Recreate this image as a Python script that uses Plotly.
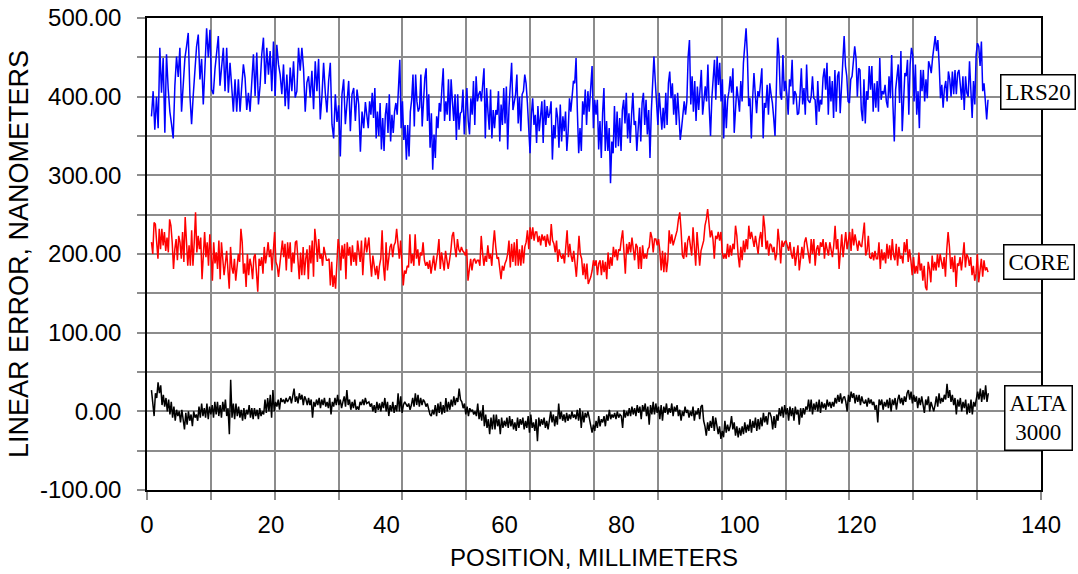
import numpy as np
import plotly.graph_objects as go

# ---- data (nanometers), in four consecutive stretches per series ----
blue_a = [375,407,358,400,360,462,405,449,354,454,410,381,365,347,414,451,425,462,381,419,449,464,481,402,365,402,441,464,479,422,448,390,437,487,450,485,409,403,435,458,477,414,437,462,407,462,405,443,413,381,422,381,422,381,413,441,424,383,405,381,418,454,401,456,390,414,454,475,416,462,428,458,407,470,401,466,441,428,403,441,388,428,384,437,407,445,399,407,462,433,462,435,381,418,426,399,433,384,445,407,448,371,401,443,405,380,420,443,365,347,403,368,389,324,403,422,365,394,420,356,403,411,369,409,390,330,381,360,393]
blue_b = [360,394,377,405,373,411,347,381,350,392,333,373,331,377,392,354,403,343,377,354,381,392,377,420,447,360,394,345,364,320,364,324,381,396,428,362,428,394,381,386,428,362,403,424,436,369,403,335,379,307,352,322,375,360,392,381,411,436,369,394,377,422,369,422,394,369,403,345,403,358,379,381,409,352,381,411,369,352,398,377,420,364,426,394,403,407,394,417,436,347,411,381,358,409,347,383,360,383,377,407,343,390,364,411,366,413,333,386,420,443,383,394,403,428,366,400,356,403,407,428,417,392,364,328,377,398,364,377,341,388,356,373,394,341,396,364,388,373,379,394,320,364,347,386,373,335,390,343,375,356,381,331,356,398,381,400,420,417,449,381,328,360,331,394,377,409,364,407,381]
blue_c = [439,360,396,377,396,333,369,322,379,411,331,369,331,360,290,343,328,388,335,381,337,373,331,383,396,366,405,347,379,341,377,405,364,369,331,360,386,343,392,405,364,396,352,383,322,381,411,451,420,390,364,405,377,358,386,360,405,364,417,432,398,417,377,403,364,405,377,345,360,377,394,377,394,451,472,390,426,381,420,369,413,383,411,434,377,398,413,394,441,386,350,398,428,447,396,451,415,443,394,422,347,403,360,396,407,426,405,436,354,386,413,398,381,420,394,443,462,487,453,388,398,347,398,430,403,379,407,400,417,436,347,392,386,415,377,417,403,392,373,350,409,475,453,403,396,453,407,420,403,377,422,413,447,390,407,403,377,379,403,436,390,411,377,441,396]
blue_d = [392,400,426,398,396,364,420,381,396,390,424,436,409,443,377,426,394,420,373,434,381,426,432,379,420,445,477,439,426,394,392,422,426,451,464,449,400,436,434,383,369,422,366,407,396,439,409,439,381,417,386,420,381,449,396,407,403,415,394,386,426,398,453,388,343,409,430,441,392,458,356,403,430,426,447,377,441,462,453,394,441,377,407,360,434,407,434,394,422,398,445,439,430,449,462,477,458,472,441,398,415,386,411,420,394,432,422,400,432,403,434,403,430,434,415,396,426,383,426,405,400,445,409,373,420,390,453,468,464,439,470,407,417,388,371,396]

red_a = [215,200,240,238,215,194,232,206,232,211,228,204,221,202,244,236,215,181,206,219,192,223,215,194,228,190,247,223,185,211,185,230,185,215,253,202,223,206,221,168,198,228,196,215,185,225,200,166,215,188,202,181,217,168,215,196,173,188,204,179,156,209,183,175,194,166,183,200,190,232,215,175,188,158,200,173,194,185,168,196,200,171,152,194,185,196,175,209,188,200,215,196,206,179,206,228,190,185,171,190,204,217,196,213,179,215,194,215,177,202,188,215,217,194,168,202,173,209,173,194,206,168,211,188,217,171,232,215,190,219,194,200,185,209,198,192,192,194,160,190,158,173,156,194,219,206,179,211,194,213,168,215,198,209,185,211,190,202,185,217,198,190,217,173,202,221,202]
red_b = [221,192,171,198,185,173,185,168,185,194,230,185,166,215,179,196,209,213,196,211,215,232,211,194,217,190,160,179,175,185,183,225,188,200,185,225,194,206,185,202,198,215,192,185,190,181,192,175,188,198,179,190,202,219,181,202,192,179,204,192,181,192,204,223,228,209,196,219,206,202,209,204,202,198,206,166,185,194,179,192,194,188,192,192,185,223,202,185,198,190,211,194,200,185,211,230,209,194,196,183,168,185,179,188,192,200,217,183,213,190,215,185,219,185,206,185,211,188,209,215,230,206,234,219,234,217,228,228,215,223,211,225,217,223,209,225,215,211,238,217,213,202,217,190,206,198,194,200,188,209,230,196,213,198,190,204,181,171,196,223,200,194,173,188,168,188,162]
red_c = [171,179,192,185,192,173,188,192,173,192,177,190,168,202,181,196,185,209,196,206,192,206,204,219,230,202,175,213,200,215,202,221,206,192,213,209,181,209,181,211,194,200,194,206,209,228,221,202,219,219,211,219,204,179,204,177,202,177,192,230,213,225,211,217,223,230,244,253,230,198,194,215,196,217,223,213,198,234,209,185,228,211,185,204,213,217,236,244,257,236,221,230,219,194,223,219,228,217,228,202,194,200,194,213,196,211,198,213,206,236,223,198,183,209,192,217,202,219,206,236,219,228,217,209,223,213,200,219,228,209,249,234,206,217,198,213,211,202,209,192,200,232,215,188,217,209,215,217,211,204,215,200,194,209,185,202,211,179,196,209,194,215,221,211,198]
red_d = [188,219,200,219,185,206,211,198,215,209,219,194,215,206,198,215,202,196,211,236,206,219,181,211,225,196,215,228,206,215,228,204,232,211,225,215,204,217,211,209,228,240,198,204,223,196,194,202,192,204,194,194,215,181,206,192,202,188,213,194,211,192,219,198,192,213,185,209,194,198,188,215,202,219,190,206,192,173,196,175,185,175,202,179,188,166,185,158,154,190,181,164,198,179,190,179,200,183,200,190,181,196,171,206,228,209,181,196,177,198,158,188,185,196,179,196,215,183,200,196,185,196,173,185,166,175,200,164,177,194,171,192,179,183,177]

black_a = [27,12,-6,23,17,37,23,33,8,21,6,17,0,15,-4,12,-8,6,-12,2,-6,0,-14,2,-12,-23,-2,-17,0,-12,-4,-19,0,-8,-4,-12,6,-8,10,-6,4,-8,10,-10,6,-4,8,-8,12,-4,12,-6,8,-8,12,0,15,-6,4,-29,40,-8,10,-10,10,-6,6,-8,2,-12,4,-10,2,-4,8,-8,4,-10,4,-6,2,-10,4,-6,0,-4,15,-2,17,0,21,-8,27,0,12,6,15,2,17,12,15,10,17,12,15,19,10,23,29,12,19,10,23,15,21,8,19,15,8,17,8,15,-8,12,6,15,8,17,4,15,8,17,6,12,4,17,-4,12,6,17,8,21,8,15,4,12,19,6,27,8,15,2,12,4,15,2,6,2,12,8,15,8,17,10]
black_b = [12,6,10,0,8,-2,12,2,10,0,12,4,17,0,12,-6,8,0,12,-2,8,0,23,0,19,-2,8,12,8,6,10,2,8,17,6,23,8,21,6,17,8,15,12,6,10,4,-4,-6,2,-4,8,-6,10,-2,12,-4,8,-2,17,0,12,2,15,6,19,8,17,12,29,15,12,4,10,-4,6,-6,4,0,2,-4,0,-6,10,-10,0,-12,8,-19,-4,-21,-10,-29,-8,-23,-4,-23,-4,-19,-10,-29,-8,-21,-12,-19,-8,-21,-6,-19,-10,-23,-14,-25,-8,-21,-10,-17,-8,-23,-12,-21,-6,-27,-4,-21,-14,-25,-10,-38,-8,-19,-10,-17,-8,-21,-12,-23,-8,0,-14,-4,-19,-6,-17,10,-10,0,-12,-4,-14,-2,-12,-4,-10,0,-8,-4,-10,2,-12,4,-21,0,-14,-2,-8,0,-8]
black_c = [-27,-17,-25,-12,-21,-6,-19,-10,-14,-6,-19,-4,-12,2,-10,-4,-8,-2,-10,0,-8,-4,-6,-21,2,-8,0,-6,4,-6,6,-4,4,-6,8,-2,6,-10,8,0,10,-6,6,-17,8,-4,12,-4,10,-2,6,-10,8,-12,6,-2,10,-4,4,-2,10,-6,6,0,8,-6,2,-12,0,-6,6,-2,2,-8,0,-6,6,-12,0,-4,4,-10,6,8,-12,-19,-31,-14,-25,-12,-21,-6,-25,-8,-21,-29,-19,-35,-25,-33,-12,-27,-17,-25,-19,-6,-23,-14,-31,-19,-33,-21,-31,-19,-29,-14,-27,-17,-25,-10,-27,-12,-21,-8,-25,-10,-23,-8,-19,-2,-14,-6,-17,-2,-2,-8,-23,-6,-21,-4,-12,4,-6,6,-8,8,-4,4,-12,6,-6,4,-12,6,-4,2,-17,4,-8,4,-4,6,2,15]
black_d = [0,15,-4,10,2,12,0,15,-2,12,4,10,2,15,6,12,4,12,6,17,10,21,12,23,10,17,19,12,0,21,12,25,17,23,10,21,12,21,8,19,12,10,15,6,17,10,15,8,12,2,8,-14,15,8,15,2,12,6,15,4,17,0,15,8,17,2,15,21,10,17,8,19,12,23,27,15,25,10,21,12,19,4,17,8,19,10,-2,15,8,19,0,12,6,0,8,19,6,23,10,17,12,21,15,35,17,27,12,21,8,17,-4,15,6,17,0,12,4,15,-4,10,-2,15,-4,12,6,17,25,15,29,12,27,15,33,12,23]

# position span (millimeters) covered by each stretch
blue_spans = [(0.7, 34.2), (34.65, 69.25), (69.7, 103.5), (103.8, 131.7)]
red_spans = [(0.7, 34.4), (34.75, 69.1), (69.5, 103.6), (103.8, 131.7)]
black_spans = [(0.7, 34.4), (34.75, 69.25), (69.7, 103.6), (103.8, 131.75)]

series_names = ["LRS20", "CORE", "ALTA 3000"]
series_colors = ["#0000FF", "#FF0000", "#000000"]

# x tick labels and where the reference prints them along the axis
x_tick_text = ["0", "20", "40", "60", "80", "100", "120", "140"]
x_tick_pos = [0, 19.4, 37.5, 56.0, 74.3, 92.8, 111.1, 140]

# y tick labels
y_tick_vals = [-100, 0, 100, 200, 300, 400, 500]
y_tick_text = ["-100.00", "0.00", "100.00", "200.00", "300.00", "400.00", "500.00"]


def build(parts, spans):
    xs, ys = [], []
    for vals, (a, b) in zip(parts, spans):
        xs.extend(np.linspace(a, b, len(vals)).tolist())
        ys.extend(vals)
    return xs, ys


series = [
    build([blue_a, blue_b, blue_c, blue_d], blue_spans),
    build([red_a, red_b, red_c, red_d], red_spans),
    build([black_a, black_b, black_c, black_d], black_spans),
]

fig = go.Figure()
for (xs, ys), name, col in zip(series, series_names, series_colors):
    fig.add_trace(go.Scatter(x=xs, y=ys, mode="lines", name=name,
                             line=dict(color=col, width=1.5), hoverinfo="skip"))
# carrier for the label-only axis
fig.add_trace(go.Scatter(x=[None], y=[None], xaxis="x2", yaxis="y",
                         mode="lines", showlegend=False, hoverinfo="skip"))

grid = "#8c8c8c"
tick_font = dict(family="Liberation Sans, Arial, sans-serif", size=24, color="black")
fig.update_layout(
    width=1078, height=574,
    margin=dict(l=147, r=37, t=18, b=84, autoexpand=False),
    plot_bgcolor="white", paper_bgcolor="white",
    showlegend=False,
    font=dict(family="Liberation Sans, Arial, sans-serif", size=24, color="black"),
    xaxis=dict(
        range=[0, 140], tick0=0, dtick=10,
        showticklabels=False,
        showgrid=True, gridcolor=grid, gridwidth=1.5,
        ticks="outside", ticklen=8, tickcolor=grid, tickwidth=1.5,
        showline=True, linecolor="black", linewidth=1.5, mirror=True,
        zeroline=False, automargin=False,
        title=dict(text="POSITION, MILLIMETERS", standoff=50,
                   font=dict(family="Liberation Sans, Arial, sans-serif", size=24)),
    ),
    xaxis2=dict(
        overlaying="x", anchor="y", side="bottom",
        range=[0, 140], tickmode="array", tickvals=x_tick_pos, ticktext=x_tick_text,
        ticks="", showgrid=False, showline=False, zeroline=False,
        tickfont=tick_font, ticklabelstandoff=18, automargin=False,
        ticklabeloverflow="allow",
    ),
    yaxis=dict(
        range=[-100, 500], tickmode="array", tickvals=y_tick_vals, ticktext=y_tick_text,
        showgrid=True, gridcolor=grid, gridwidth=1.5,
        ticks="outside", ticklen=8, tickcolor=grid, tickwidth=1.5,
        minor=dict(tickvals=[-50, 50, 150, 250, 350, 450], showgrid=True,
                   gridcolor=grid, gridwidth=1.5,
                   ticks="outside", ticklen=8, tickcolor=grid, tickwidth=1.5),
        showline=True, linecolor="black", linewidth=1.5, mirror=True,
        zeroline=False, automargin=False,
        tickfont=tick_font, ticklabelstandoff=11, ticklabeloverflow="allow",
        title=dict(text="LINEAR ERROR, NANOMETERS", standoff=4,
                   font=dict(family="Liberation Sans, Arial, sans-serif", size=27)),
    ),
)

label_texts = ["LRS20", "CORE", "ALTA<br>3000"]
label_y = [406, 190, -8]
label_x = [0.954, 0.9575, 0.9586]
for t, yv, xv in zip(label_texts, label_y, label_x):
    fig.add_annotation(text=t, xref="paper", x=xv, xanchor="left",
                       yref="y", y=yv, yanchor="middle", showarrow=False,
                       font=dict(family="Liberation Serif, Times New Roman, serif", size=23, color="black"),
                       bordercolor="black", borderwidth=1.5, borderpad=4, bgcolor="white",
                       align="center")

# remove the page's default body margin so the figure sits at the window's corner
fig.write_html("out.html", config={"displayModeBar": False},
               post_script="document.body.style.margin='0';")
